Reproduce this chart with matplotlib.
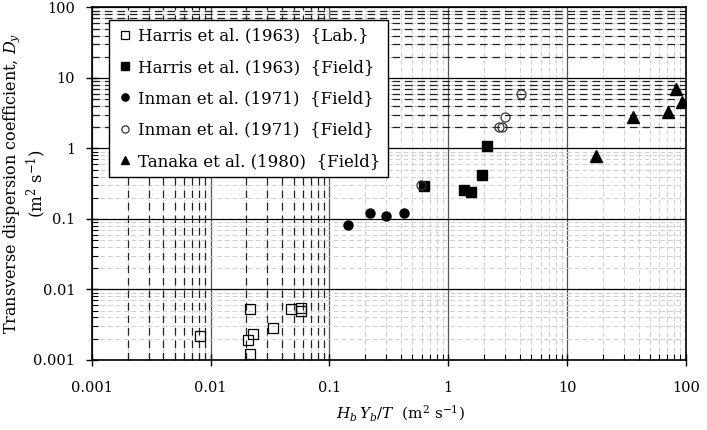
import numpy as np
import matplotlib
matplotlib.use("Agg")
import matplotlib.pyplot as plt
from matplotlib.ticker import LogLocator, NullFormatter, FixedLocator

plt.rcParams["font.family"] = ["DejaVu Serif"]
plt.rcParams["mathtext.fontset"] = "dejavuserif"

# Harris et al. (1963) {Lab.}
harris_lab_x = [0.0081, 0.0216, 0.0226, 0.0205, 0.0216, 0.0335, 0.0474, 0.0575, 0.0575]
harris_lab_y = [0.0022, 0.0052, 0.0023, 0.0019, 0.0012, 0.0028, 0.0052, 0.0054, 0.0050]

# Harris et al. (1963) {Field}
harris_field_x = [0.63, 1.35, 1.54, 1.92, 2.10]
harris_field_y = [0.29, 0.26, 0.24, 0.42, 1.10]

# Inman et al. (1971) {Field}, filled
inman_f_x = [0.143, 0.219, 0.299, 0.424]
inman_f_y = [0.081, 0.123, 0.110, 0.123]

# Inman et al. (1971) {Field}, open
inman_o_x = [0.585, 2.68, 2.86, 3.01, 4.10]
inman_o_y = [0.30, 2.0, 2.0, 2.8, 5.9]

# Tanaka et al. (1980) {Field}
tanaka_x = [17.7, 36.2, 70.3, 83.2, 93.4]
tanaka_y = [0.77, 2.8, 3.3, 7.0, 4.5]

x_ticks = [0.001, 0.01, 0.1, 1, 10, 100]
x_ticklabels = ["0.001", "0.01", "0.1", "1", "10", "100"]
y_ticks = [0.001, 0.01, 0.1, 1, 10, 100]
y_ticklabels = ["0.001", "0.01", "0.1", "1", "10", "100"]

fig = plt.figure(figsize=(7.07, 4.30), dpi=100)
ax = fig.add_axes([0.130, 0.163, 0.840, 0.8196])
ax.set_xscale("log")
ax.set_yscale("log")
ax.set_xlim(0.001, 100)
ax.set_ylim(0.001, 100)

# grids
ax.xaxis.set_minor_locator(LogLocator(base=10, subs=np.arange(2, 10)))
ax.yaxis.set_minor_locator(LogLocator(base=10, subs=np.arange(2, 10)))
ax.xaxis.set_minor_formatter(NullFormatter())
ax.yaxis.set_minor_formatter(NullFormatter())
ax.grid(which="minor", color="#cfcfcf", linestyle=(0, (5, 3)), linewidth=0.7, zorder=0)
ax.grid(which="major", axis="y", color="black", linestyle="-", linewidth=0.9, zorder=1)
ax.grid(which="major", axis="x", color="#555555", linestyle="-", linewidth=0.9, zorder=1)

dark_x = [k * 10.0 ** e for e in (-3, -2) for k in range(2, 10)]
dark_y = [k * 10.0 ** e for e in (0, 1) for k in range(2, 10)]
ax.vlines(dark_x, 0, 1, transform=ax.get_xaxis_transform(), colors="#222222",
          linestyles=(0, (6, 4)), linewidth=0.9, zorder=1)
ax.hlines(dark_y, 0, 1, transform=ax.get_yaxis_transform(), colors="#222222",
          linestyles=(0, (6, 4)), linewidth=0.9, zorder=1)
ax.set_axisbelow(True)

ax.plot(harris_lab_x, harris_lab_y, "s", ms=6.5, mfc="none", mec="black", mew=0.9,
        label="Harris et al. (1963)  {Lab.}", zorder=3)
ax.plot(harris_field_x, harris_field_y, "s", ms=6.5, color="black",
        label="Harris et al. (1963)  {Field}", zorder=3)
ax.plot(inman_f_x, inman_f_y, "o", ms=6.5, color="black",
        label="Inman et al. (1971)  {Field}", zorder=3)
ax.plot(inman_o_x, inman_o_y, "o", ms=6.5, mfc="none", mec="#333333", mew=0.9,
        label="Inman et al. (1971)  {Field}", zorder=3)
ax.plot(tanaka_x, tanaka_y, "^", ms=8, color="black",
        label="Tanaka et al. (1980)  {Field}", zorder=3)

ax.xaxis.set_major_locator(FixedLocator(x_ticks))
ax.yaxis.set_major_locator(FixedLocator(y_ticks))
ax.set_xticklabels(x_ticklabels)
ax.set_yticklabels(y_ticklabels)
ax.tick_params(which="major", axis="x", direction="inout", length=8, width=1, labelsize=10.5, pad=11)
ax.tick_params(which="major", axis="y", direction="inout", length=8, width=1, labelsize=10.5, pad=8)
ax.tick_params(which="minor", direction="in", length=4, width=0.8)
for s in ax.spines.values():
    s.set_linewidth(1.2)
    s.set_color("black")

ax.set_xlabel("$H_b\\,Y_b/T$  (m$^2$ s$^{-1}$)", fontsize=11)
ax.xaxis.set_label_coords(0.52, -0.122)

fig.text(0.0165, 0.574, "Transverse dispersion coefficient, $D_y$", rotation=90,
         ha="center", va="center", fontsize=11.5)
fig.text(0.051, 0.574, "(m$^2$ s$^{-1}$)", rotation=90, ha="center", va="center", fontsize=12)

leg = ax.legend(loc="upper left", bbox_to_anchor=(0.0286, 0.9645), borderaxespad=0,
                fontsize=12, handlelength=1.0, handletextpad=0.3, labelspacing=0.86,
                borderpad=0.45, fancybox=False, framealpha=1, edgecolor="black",
                markerscale=0.8)
leg.get_frame().set_linewidth(1.0)
leg.set_zorder(5)

fig.savefig("out.png", dpi=100)
